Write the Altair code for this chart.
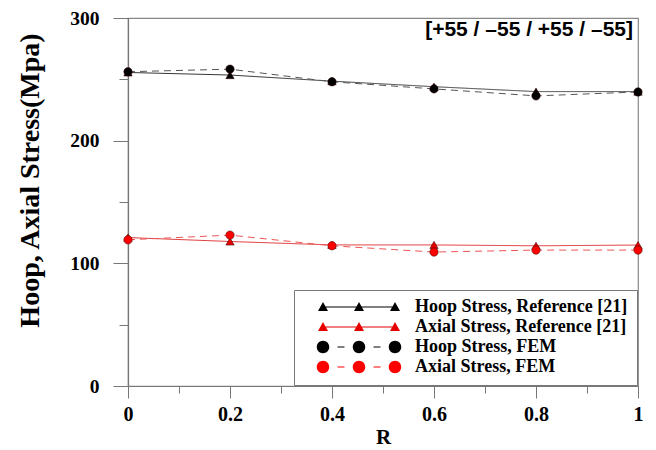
import altair as alt
import pandas as pd

# ---- data ----
r_values = [0.0, 0.2, 0.4, 0.6, 0.8, 1.0]
hoop_reference = [255.6, 253.5, 248.5, 244.0, 240.0, 240.0]
axial_reference = [121.0, 117.8, 115.0, 115.0, 114.3, 114.9]
hoop_fem = [256.2, 258.3, 248.0, 242.2, 236.5, 239.7]
axial_fem = [119.2, 123.0, 114.3, 109.2, 110.8, 110.8]

series_names = [
    "Hoop Stress, Reference [21]",
    "Axial Stress, Reference [21]",
    "Hoop Stress, FEM",
    "Axial Stress, FEM",
]
series_values = [hoop_reference, axial_reference, hoop_fem, axial_fem]

x_major_ticks = [0, 0.2, 0.4, 0.6, 0.8, 1.0]
x_minor_ticks = [0.1, 0.3, 0.5, 0.7, 0.9]
y_major_ticks = [0, 100, 200, 300]
y_minor_ticks = [50, 150, 250]

annotation = "[+55 / \u201355 / +55 / \u201355]"

# ---- styling ----
marker_colors = ["#000000", "#e60000", "#000000", "#ff0000"]
line_colors = ["#333333", "#e03a3a", "#555555", "#ee5555"]
line_dashes = [[1, 0], [1, 0], [7, 5], [7, 5]]
marker_shapes = ["triangle-up", "triangle-up", "circle", "circle"]

# legend symbols: line with three markers (unit path scaled by sqrt(size)/2)
tri = lambda cx: f"M {cx-0.1:.3f} 0.08 L {cx:.3f} -0.10 L {cx+0.1:.3f} 0.08 Z "
circ = lambda cx, r=0.125: (f"M {cx-r:.3f} 0 A {r} {r} 0 1 1 {cx+r:.3f} 0 "
                            f"A {r} {r} 0 1 1 {cx-r:.3f} 0 Z ")
bar = lambda x1, x2, h=0.011: (f"M {x1:.3f} {-h} L {x2:.3f} {-h} L {x2:.3f} {h} "
                               f"L {x1:.3f} {h} Z ")
solid_symbol = bar(-0.72, 0.72) + tri(-0.72) + tri(0.0) + tri(0.72)
dashed_symbol = (circ(-0.72) + circ(0.0) + circ(0.72)
                 + bar(-0.43, -0.29, 0.012) + bar(0.29, 0.43, 0.012))
legend_shapes = [solid_symbol, solid_symbol, dashed_symbol, dashed_symbol]

rows = []
for name, vals in zip(series_names, series_values):
    for r, v in zip(r_values, vals):
        rows.append({"R": r, "Stress": v, "Series": name})
df = pd.DataFrame(rows)

serif = "Liberation Serif"

x_scale = alt.Scale(domain=[0, 1], nice=False, zero=False)
y_scale = alt.Scale(domain=[0, 300], nice=False)

x_main = alt.X(
    "R:Q", scale=x_scale,
    axis=alt.Axis(orient="bottom", values=x_major_ticks, format="~g", title="R",
                  grid=False, tickSize=12, labelPadding=6, titlePadding=2,
                  labelFont=serif, labelFontWeight="bold", labelFontSize=20,
                  titleFont=serif, titleFontWeight="bold", titleFontSize=21,
                  labelFlush=False),
)
y_main = alt.Y(
    "Stress:Q", scale=y_scale,
    axis=alt.Axis(orient="left", values=y_major_ticks, title="Hoop, Axial Stress(Mpa)",
                  grid=False, tickSize=15, labelPadding=14,
                  labelFont=serif, labelFontWeight="bold", labelFontSize=19.5,
                  titleFont=serif, titleFontWeight="bold", titleFontSize=28,
                  titleX=-98, titleY=162, titleBaseline="middle", titleAlign="center",
                  labelFlush=False),
)

color_lines = alt.Color("Series:N", scale=alt.Scale(domain=series_names, range=line_colors),
                        legend=None)
dash_lines = alt.StrokeDash("Series:N", scale=alt.Scale(domain=series_names, range=line_dashes),
                            legend=None)

lines = alt.Chart(df).mark_line(strokeWidth=1).encode(
    x=x_main, y=y_main, color=color_lines, strokeDash=dash_lines,
    detail="Series:N",
)

points = alt.Chart(df).mark_point(filled=True, size=70, stroke="#300000",
                                  strokeWidth=0.5, opacity=1).encode(
    x=alt.X("R:Q", scale=x_scale, axis=None),
    y=alt.Y("Stress:Q", scale=y_scale, axis=None),
    color=alt.Color("Series:N", scale=alt.Scale(domain=series_names, range=marker_colors),
                    legend=None),
    shape=alt.Shape("Series:N", scale=alt.Scale(domain=series_names, range=marker_shapes),
                    legend=None),
)

legend_def = alt.Legend(
    title=None, orient="bottom-right", offset=1,
    symbolSize=10000, clipHeight=16, rowPadding=2,
    symbolOffset=5, labelOffset=5, symbolOpacity=1,
    labelFont=serif, labelFontWeight="bold", labelFontSize=18, labelColor="black",
    labelLimit=400, padding=9, strokeColor="#777777", fillColor="white",
)
legend_layer = alt.Chart(df).transform_filter("datum.Stress < 0").mark_point(
    filled=True).encode(
    x=alt.X("R:Q", scale=x_scale, axis=None),
    y=alt.Y("Stress:Q", scale=y_scale, axis=None),
    color=alt.Color("Series:N", scale=alt.Scale(domain=series_names, range=marker_colors),
                    legend=legend_def, sort=series_names),
    shape=alt.Shape("Series:N", scale=alt.Scale(domain=series_names, range=legend_shapes),
                    legend=legend_def, sort=series_names),
)

minor = alt.Chart(df).mark_point(opacity=0).encode(
    x=alt.X("R:Q", scale=x_scale,
            axis=alt.Axis(orient="bottom", values=x_minor_ticks, labels=False, title=None,
                          grid=False, domain=False, tickSize=7)),
    y=alt.Y("Stress:Q", scale=y_scale,
            axis=alt.Axis(orient="left", values=y_minor_ticks, labels=False, title=None,
                          grid=False, domain=False, tickSize=9)),
)

chart = alt.layer(lines, points, legend_layer, minor).resolve_scale(
    color="independent", shape="independent", strokeDash="independent"
).resolve_axis(x="independent", y="independent").properties(
    width=510, height=368,
    autosize=alt.AutoSizeParams(type="none"),
    padding={"left": 120, "top": 10, "right": 10, "bottom": 64},
    title=alt.TitleParams(annotation, anchor="end", frame="group", orient="top",
                          font="Liberation Sans", fontWeight="bold", fontSize=21,
                          color="black", offset=-32, dx=-5),
).configure_axis(
    domainColor="#777777", tickColor="#777777", domainWidth=1.2, tickWidth=1,
    labelColor="black", titleColor="black",
).configure_view(stroke="#888888", strokeWidth=1.2)

chart.save("out.html", embed_options={"renderer": "svg", "actions": False})
